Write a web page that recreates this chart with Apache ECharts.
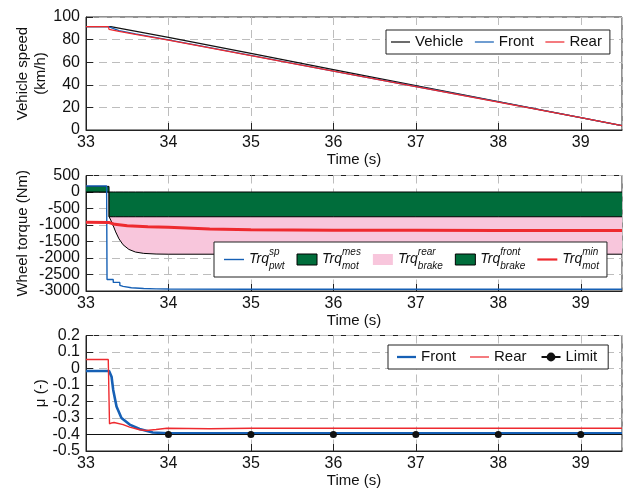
<!DOCTYPE html>
<html>
<head>
<meta charset="utf-8">
<script src="https://cdn.jsdelivr.net/npm/echarts@6/dist/echarts.min.js"></script>
<style>
  html, body { margin: 0; padding: 0; background: #fff; }
  #chart { width: 623px; height: 492px; }
</style>
</head>
<body>
<div id="chart"></div>
<script>
// ---- Vehicle and wheel speeds (km/h) ----
const speedTime    = [33, 33.3, 34, 35, 36, 37, 38, 39, 39.5];
const vehicleSpeed = [91.5, 91.5, 82.0, 67.8, 53.5, 39.3, 25.1, 11.0, 3.9];
const wheelTime    = [33, 33.27, 33.28, 33.4, 33.6, 34, 35, 36, 37, 38, 39, 39.5];
const frontSpeed   = [91.5, 91.5, 90.2, 88.0, 85.0, 79.8, 66.0, 52.2, 38.5, 24.8, 11.0, 3.9];
const rearSpeed    = [91.5, 91.5, 89.0, 87.3, 84.6, 79.6, 65.9, 52.1, 38.4, 24.7, 10.9, 3.9];

// ---- Wheel torques (Nm) ----
const trqTime    = [33, 33.279, 33.28, 33.30, 33.33, 33.36, 33.40, 33.45, 33.52, 33.60, 33.70, 33.85, 34, 35, 36, 37, 38, 39, 39.5];
const motMes     = [170, 170, 0, 0, 0, 0, 0, 0, 0, 0, 0, 0, 0, 0, 0, 0, 0, 0, 0];
const brakeFront = [0, 0, -750, -750, -750, -750, -750, -750, -750, -750, -750, -750, -750, -750, -750, -750, -750, -750, -750];
const brakeRear  = [0, 0, 0, -100, -270, -460, -670, -850, -990, -1070, -1110, -1130, -1135, -1135, -1135, -1135, -1135, -1135, -1135];
const pwtTime    = [33, 33.25, 33.255, 33.33, 33.331, 33.41, 33.411, 33.45, 33.55, 33.7, 33.85, 34, 35, 36, 37, 38, 39, 39.5];
const pwtSetpoint = [180, 180, -2650, -2650, -2740, -2740, -2830, -2860, -2900, -2925, -2935, -2940, -2945, -2945, -2945, -2945, -2945, -2945];
const minTime    = [33, 33.28, 33.35, 33.5, 33.75, 34, 34.5, 35, 36, 37, 38, 39, 39.5];
const motMin     = [-920, -925, -980, -1020, -1050, -1070, -1120, -1145, -1160, -1160, -1165, -1165, -1165];

// ---- Friction utilisation mu (-) ----
const muFrontTime = [33, 33.28, 33.29, 33.31, 33.33, 33.37, 33.43, 33.53, 33.65, 33.81, 34, 35, 36, 37, 38, 39, 39.5];
const muFront     = [-0.015, -0.015, -0.01, -0.05, -0.13, -0.23, -0.30, -0.34, -0.367, -0.388, -0.392, -0.392, -0.392, -0.392, -0.392, -0.392, -0.392];
const muRearTime  = [33, 33.27, 33.285, 33.31, 33.34, 33.45, 33.53, 33.65, 33.73, 33.85, 33.98, 34.5, 35, 36, 37, 38, 39, 39.5];
const muRear      = [0.055, 0.055, -0.335, -0.33, -0.327, -0.34, -0.355, -0.371, -0.376, -0.370, -0.362, -0.365, -0.362, -0.362, -0.362, -0.362, -0.362, -0.362];
const limitTime   = [33, 34, 35, 36, 37, 38, 39, 39.5];
const limitMu     = [-0.4, -0.4, -0.4, -0.4, -0.4, -0.4, -0.4, -0.4];
const limitMarked = [false, true, true, true, true, true, true, false];

// ---- Legend labels for the torque panel ----
const torqueLegend = [
  { name: 'Trq_pwt^sp',      sup: 'sp',    sub: 'pwt' },
  { name: 'Trq_mot^mes',     sup: 'mes',   sub: 'mot' },
  { name: 'Trq_brake^rear',  sup: 'rear',  sub: 'brake' },
  { name: 'Trq_brake^front', sup: 'front', sub: 'brake' },
  { name: 'Trq_mot^min',     sup: 'min',   sub: 'mot' }
];

const FONT = '"Liberation Sans", Arial, Helvetica, sans-serif';
const INK = '#111';
const BLUE = '#1660b5';
const RED = '#ee2a2f';
const GREEN = '#006d3b';
const PINK = '#f8c6dc';

const pairs = (xs, ys) => xs.map((x, i) => [x, ys[i]]);

// lower edge of the rear-brake band: front and rear brake torque added up
const brakeTotal = brakeFront.map((f, i) => f + brakeRear[i]);

// flat bar used as a plain line sample in the legends
const barIcon = h => 'path://M0,0H20V' + h + 'H0Z';

function timeAxis(gridIndex) {
  return {
    type: 'value', gridIndex, min: 33, max: 39.5, interval: 1,
    name: 'Time (s)', nameLocation: 'middle', nameGap: 22, nameMoveOverlap: false,
    nameTextStyle: { fontSize: 15, color: INK, fontFamily: FONT },
    axisLine: { show: true, onZero: false, lineStyle: { color: '#222', width: 1 } },
    axisTick: { show: true, inside: true, length: 7, lineStyle: { color: '#222' } },
    axisLabel: { fontSize: 16, color: INK, fontFamily: FONT, margin: 5, showMinLabel: true, showMaxLabel: false },
    splitLine: { show: true, lineStyle: { color: '#bdbdbd', width: 1, type: [8, 5] } }
  };
}

function valueAxis(gridIndex, min, max, interval, name, nameGap) {
  return {
    type: 'value', gridIndex, min, max, interval,
    name, nameLocation: 'middle', nameGap, nameMoveOverlap: false,
    nameTextStyle: { fontSize: 15, color: INK, fontFamily: FONT, lineHeight: 18 },
    axisLine: { show: true, onZero: false, lineStyle: { color: '#222', width: 1 } },
    axisTick: { show: true, inside: true, length: 7, lineStyle: { color: '#222' } },
    axisLabel: { fontSize: 16, color: INK, fontFamily: FONT, margin: 6,
                 formatter: v => String(Math.round(v * 1000) / 1000) },
    splitLine: { show: true, lineStyle: { color: '#bdbdbd', width: 1, type: [8, 5] } }
  };
}

const gridBase = { left: 86, width: 536, show: true, borderColor: '#222', borderWidth: 1,
                   backgroundColor: 'transparent', containLabel: false, outerBoundsMode: 'none' };

const lineSeries = (name, xi, data, color, width, extra) => Object.assign({
  name, type: 'line', xAxisIndex: xi, yAxisIndex: xi, data,
  symbol: 'none', animation: false,
  lineStyle: { color, width }, itemStyle: { color }
}, extra || {});

const legendBase = {
  orient: 'horizontal', selectedMode: false, backgroundColor: '#fff',
  borderColor: '#222', borderWidth: 1, borderRadius: 0,
  itemWidth: 19, itemHeight: 11,
  textStyle: { fontSize: 15, color: INK, fontFamily: FONT }
};

const lineKey = (name, color, h) => ({ name, icon: barIcon(h), itemStyle: { color, borderWidth: 0 } });

const option = {
  animation: false,
  backgroundColor: '#fff',
  grid: [
    Object.assign({ top: 17, height: 113 }, gridBase),
    Object.assign({ top: 175.5, height: 115.5 }, gridBase),
    Object.assign({ top: 335.5, height: 115.5 }, gridBase)
  ],
  xAxis: [timeAxis(0), timeAxis(1), timeAxis(2)],
  yAxis: [
    valueAxis(0, 0, 100, 20, 'Vehicle speed\n(km/h)', 36),
    valueAxis(1, -3000, 500, 500, 'Wheel torque (Nm)', 54),
    valueAxis(2, -0.5, 0.2, 0.1, 'μ (-)', 36)
  ],
  legend: [
    Object.assign({}, legendBase, {
      left: 386, top: 30, padding: [4.5, 8, 4.5, 5], itemGap: 11.5,
      data: [lineKey('Vehicle', INK, 1.3), lineKey('Front speed', BLUE, 1.3), lineKey('Rear speed', RED, 1.3)],
      formatter: n => n.split(' ')[0]
    }),
    Object.assign({}, legendBase, {
      left: 214, top: 242, padding: [5.5, 8, 5.5, 10], itemGap: 12, itemWidth: 20,
      data: [
        lineKey(torqueLegend[0].name, BLUE, 1.4),
        { name: torqueLegend[1].name, icon: 'rect', itemStyle: { color: GREEN, borderColor: '#000', borderWidth: 1 } },
        { name: torqueLegend[2].name, icon: 'rect', itemStyle: { color: PINK, borderWidth: 0 } },
        { name: torqueLegend[3].name, icon: 'rect', itemStyle: { color: GREEN, borderColor: '#000', borderWidth: 1 } },
        lineKey(torqueLegend[4].name, RED, 2.2)
      ],
      formatter: n => {
        const l = torqueLegend.find(d => d.name === n);
        return '{t|Trq}{sup|' + l.sup + '}{sub|' + l.sub + '}';
      },
      textStyle: {
        fontSize: 14, color: INK, fontFamily: FONT, fontStyle: 'italic',
        rich: {
          t:   { fontSize: 14, fontStyle: 'italic', fontFamily: FONT, color: INK, lineHeight: 24 },
          sup: { fontSize: 10, fontStyle: 'italic', fontFamily: FONT, color: INK, lineHeight: 15, verticalAlign: 'top', width: 0 },
          sub: { fontSize: 10, fontStyle: 'italic', fontFamily: FONT, color: INK, lineHeight: 9, verticalAlign: 'bottom' }
        }
      }
    }),
    Object.assign({}, legendBase, {
      left: 388, top: 345, padding: [4.5, 11, 4.5, 9], itemGap: 14,
      data: [lineKey('Front μ', BLUE, 2.4), lineKey('Rear μ', RED, 1.3), { name: 'Limit' }],
      formatter: n => n.split(' ')[0]
    })
  ],
  series: [
    // speeds
    lineSeries('Vehicle', 0, pairs(speedTime, vehicleSpeed), INK, 1.3, { z: 2 }),
    lineSeries('Front speed', 0, pairs(wheelTime, frontSpeed), BLUE, 1.3, { z: 3 }),
    lineSeries('Rear speed', 0, pairs(wheelTime, rearSpeed), RED, 1.3, { z: 4 }),

    // torques: rear band drawn first, front band laid over its upper part
    lineSeries(torqueLegend[2].name, 1, pairs(trqTime, brakeTotal), '#000', 1,
      { areaStyle: { color: PINK, opacity: 1, origin: 0 }, itemStyle: { color: PINK }, z: 1 }),
    lineSeries(torqueLegend[3].name, 1, pairs(trqTime, brakeFront), '#000', 1,
      { areaStyle: { color: GREEN, opacity: 1, origin: 0 }, itemStyle: { color: GREEN }, z: 2 }),
    lineSeries(torqueLegend[1].name, 1, pairs(trqTime, motMes), '#000', 1,
      { areaStyle: { color: GREEN, opacity: 1, origin: 0 }, itemStyle: { color: GREEN }, z: 2 }),
    lineSeries(torqueLegend[0].name, 1, pairs(pwtTime, pwtSetpoint), BLUE, 1.4, { z: 3 }),
    lineSeries(torqueLegend[4].name, 1, pairs(minTime, motMin), RED, 3, { z: 4 }),

    // friction utilisation
    lineSeries('Front μ', 2, pairs(muFrontTime, muFront), BLUE, 2.6, { z: 2 }),
    lineSeries('Rear μ', 2, pairs(muRearTime, muRear), RED, 1.4, { z: 3 }),
    lineSeries('Limit', 2,
      limitTime.map((t, i) => ({ value: [t, limitMu[i]], symbol: limitMarked[i] ? 'circle' : 'none' })),
      INK, 1.2, { symbol: 'circle', symbolSize: 7, showSymbol: true, showAllSymbol: true, z: 4 })
  ]
};

const chart = echarts.init(document.getElementById('chart'), null, { renderer: 'canvas' });
chart.setOption(option);
</script>
</body>
</html>
